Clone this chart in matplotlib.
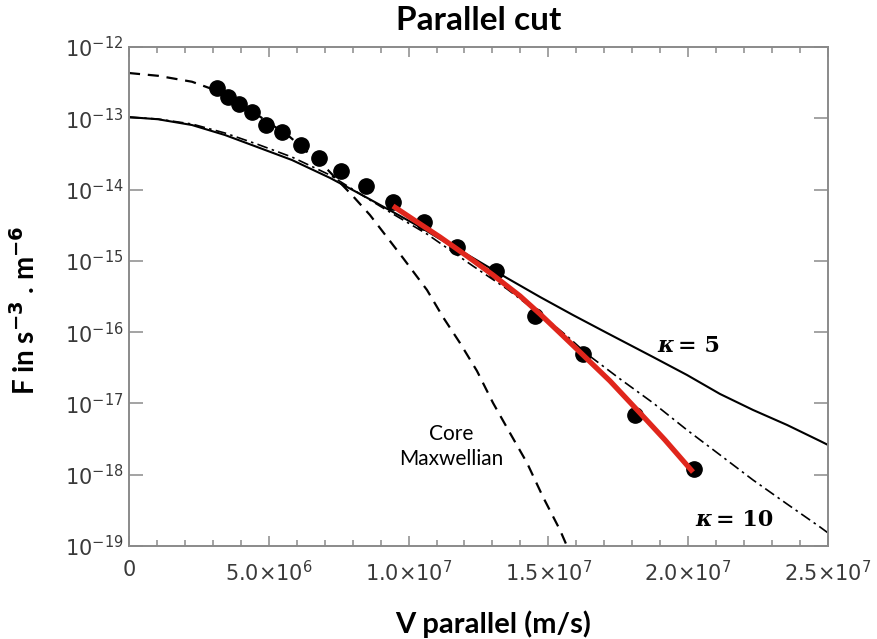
import matplotlib
matplotlib.use("Agg")
import matplotlib.pyplot as plt
from matplotlib.ticker import MultipleLocator, NullLocator, FixedLocator

# measured electron distribution (dots)
v_data = [3.15e6, 3.54e6, 3.93e6, 4.41e6, 4.90e6, 5.47e6, 6.15e6, 6.80e6, 7.58e6,
          8.48e6, 9.45e6, 1.055e7, 1.173e7, 1.313e7, 1.452e7, 1.624e7, 1.81e7, 2.02e7]
f_data = [2.66e-13, 2.0e-13, 1.58e-13, 1.23e-13, 8.1e-14, 6.4e-14, 4.2e-14, 2.8e-14, 1.8e-14,
          1.12e-14, 6.7e-15, 3.55e-15, 1.57e-15, 7.2e-16, 1.7e-16, 4.9e-17, 6.9e-18, 1.2e-18]

# red fit
v_fit = [9.442e6, 1.0408e7, 1.1123e7, 1.2089e7, 1.3019e7, 1.3984e7, 1.47e7, 1.5415e7,
         1.6237e7, 1.7203e7, 1.8276e7, 1.917e7, 2.0172e7]
f_fit = [5.89e-15, 3.30e-15, 2.16e-15, 1.17e-15, 6.34e-16, 3.22e-16, 1.80e-16, 9.75e-17,
         4.79e-17, 2.07e-17, 7.36e-18, 3.08e-18, 1.09e-18]

# kappa = 5 (solid)
v_k5 = [0, 1.037e6, 2.253e6, 3.433e6, 4.614e6, 5.83e6, 7.189e6, 8.262e6, 9.442e6, 1.0408e7,
        1.1123e7, 1.2303e7, 1.3519e7, 1.47e7, 1.588e7, 1.7096e7, 1.8741e7, 1.9957e7,
        2.1137e7, 2.2318e7, 2.3534e7, 2.4714e7, 2.5e7]
f_k5 = [1.04e-13, 9.7e-14, 8.05e-14, 5.83e-14, 3.92e-14, 2.60e-14, 1.46e-14, 8.7e-15, 4.85e-15,
        2.99e-15, 2.03e-15, 1.10e-15, 5.75e-16, 3.12e-16, 1.74e-16, 9.75e-17, 4.49e-17,
        2.51e-17, 1.36e-17, 8.11e-18, 5.0e-18, 2.98e-18, 2.62e-18]

# kappa = 10 (dash-dot)
v_k10 = [0, 1.037e6, 2.253e6, 3.433e6, 4.614e6, 5.83e6, 7.189e6, 8.262e6, 9.442e6, 1.0658e7,
         1.1838e7, 1.2303e7, 1.3519e7, 1.47e7, 1.5665e7, 1.6381e7, 1.7561e7, 1.8741e7,
         1.9957e7, 2.1137e7, 2.2318e7, 2.3534e7, 2.4714e7, 2.5e7]
f_k10 = [1.04e-13, 9.77e-14, 8.32e-14, 6.22e-14, 4.30e-14, 2.86e-14, 1.60e-14, 8.7e-15, 4.55e-15,
         2.38e-15, 1.135e-15, 8.47e-16, 4.04e-16, 1.80e-16, 8.85e-17, 4.94e-17, 2.21e-17,
         1.02e-17, 4.25e-18, 1.90e-18, 8.45e-19, 3.89e-19, 1.85e-19, 1.53e-19]

# core Maxwellian (dashed)
v_max = [0, 1.037e6, 2.253e6, 3.076e6, 3.97e6, 4.864e6, 5.758e6, 7.117e6, 8.011e6, 8.619e6,
         9.335e6, 9.8e6, 1.0658e7, 1.123e7, 1.1838e7, 1.2446e7, 1.3019e7, 1.3627e7,
         1.4235e7, 1.4807e7, 1.5415e7, 1.5665e7]
f_max = [4.32e-13, 3.95e-13, 3.26e-13, 2.49e-13, 1.64e-13, 9.46e-14, 5.47e-14, 1.88e-14,
         8.1e-15, 4.4e-15, 1.9e-15, 1.1e-15, 3.91e-16, 1.63e-16, 7.06e-17, 2.86e-17,
         1.02e-17, 3.85e-18, 1.47e-18, 4.89e-19, 1.68e-19, 1.0e-19]

xticks = [0, 5e6, 1e7, 1.5e7, 2e7, 2.5e7]
xticklabels = ["0", r"5.0$\times$10$^{6}$", r"1.0$\times$10$^{7}$", r"1.5$\times$10$^{7}$",
               r"2.0$\times$10$^{7}$", r"2.5$\times$10$^{7}$"]
yticks = [1e-19, 1e-18, 1e-17, 1e-16, 1e-15, 1e-14, 1e-13, 1e-12]
yticklabels = [r"10$^{-%d}$" % e for e in range(19, 11, -1)]

fig = plt.figure(figsize=(8.78, 6.39), dpi=100)
ax = fig.add_axes([0.1469, 0.1455, 0.7961, 0.7809])

ax.plot(v_max, f_max, color="black", lw=1.6, linestyle=(0, (5, 3.5)))
ax.plot(v_k10, f_k10, color="black", lw=1.2, linestyle=(0, (6.5, 2.6, 1.5, 2.6)))
ax.plot(v_k5, f_k5, color="black", lw=1.5)
ax.plot(v_data, f_data, "o", color="black", markersize=11)
ax.plot(v_fit, f_fit, color="#e0261c", lw=3.8, solid_capstyle="butt")

ax.set_yscale("log")
ax.set_xlim(0, 2.5e7)
ax.set_ylim(1e-19, 1e-12)

ax.xaxis.set_major_locator(FixedLocator(xticks))
ax.set_xticklabels(xticklabels)
ax.xaxis.set_minor_locator(MultipleLocator(1e6))
ax.yaxis.set_major_locator(FixedLocator(yticks))
ax.yaxis.set_minor_locator(NullLocator())
ax.set_yticklabels(yticklabels)

for s in ax.spines.values():
    s.set_color("#8a8a8a")
    s.set_linewidth(1.4)
ax.tick_params(which="both", direction="in", top=True, right=True, color="#8a8a8a",
               labelcolor="#3a3a3a", labelsize=15, width=1.1)
ax.tick_params(axis="x", which="major", length=7, pad=10)
ax.tick_params(axis="x", which="minor", length=4)
ax.tick_params(axis="y", which="major", length=10, pad=4)

ax.text(0.5, 1.054, "Parallel cut", transform=ax.transAxes, ha="center", va="center",
        fontsize=24, fontweight="bold", family="Lato")
ax.set_xlabel("V parallel (m/s)", fontsize=21, fontweight="bold", family="Lato")
ax.xaxis.set_label_coords(0.521, -0.129)
ax.set_ylabel(r"F in s$^{\mathbf{-3}}$ . m$^{\mathbf{-6}}$", fontsize=20, fontweight="bold",
              family="Lato")
ax.yaxis.set_label_coords(-0.128, 0.473)

# kappa labels: italic kappa, upright "= n"
lab = dict(fontsize=16, fontweight="bold", family="DejaVu Serif", va="center")
ax.text(1.949e7, 6.3e-17, "\u03ba", ha="right", style="italic", **lab)
ax.text(1.963e7, 6.3e-17, "= 5", ha="left", **lab)
ax.text(2.085e7, 2.32e-19, "\u03ba", ha="right", style="italic", **lab)
ax.text(2.099e7, 2.32e-19, "= 10", ha="left", **lab)
ax.text(1.152e7, 2.5e-18, "Core\nMaxwellian", fontsize=15, family="Lato", ha="center",
        va="center", linespacing=1.35)

fig.savefig("out.png", dpi=100)
